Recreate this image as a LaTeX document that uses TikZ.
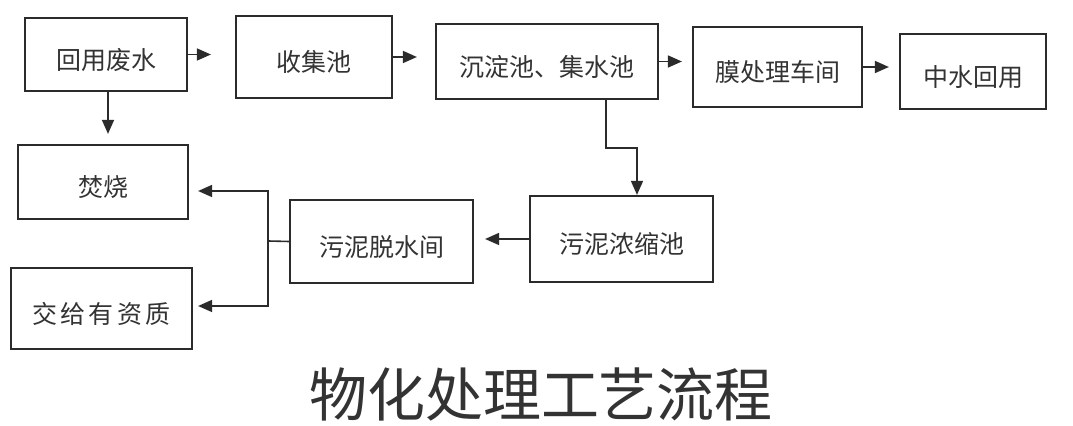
\documentclass[tikz,border=0pt]{standalone}
\usepackage{fontspec}
\newfontfamily\cjk{Noto Sans CJK SC}
\usetikzlibrary{arrows.meta,positioning}
\definecolor{flowink}{HTML}{2B2B2B}
\definecolor{flowtext}{HTML}{333333}

\begin{document}
\begin{tikzpicture}[
  x=0.5pt,y=-0.5pt,
  font=\cjk\fontsize{12.5}{15}\selectfont,
  box/.style={draw=flowink,line width=1.1pt,align=center,inner sep=2pt,text=flowtext,text height=16pt,text depth=1pt},
  arr/.style={draw=flowink,line width=0.8pt,->},
  >={Triangle[length=7pt,width=6pt]}]
\useasboundingbox[fill=white] (0,0) rectangle (1073,426);
% top row
\node[box,minimum width=81pt,minimum height=36.5pt] (waste) at (106,54.5) {回用废水};
\node[box,minimum width=78pt,minimum height=41pt] (collect) at (314,57) {收集池};
\node[box,minimum width=111pt,minimum height=37.5pt] (settle) at (547,61.5) {沉淀池、集水池};
\node[box,minimum width=84.5pt,minimum height=40pt] (membrane) at (777.5,67) {膜处理车间};
\node[box,minimum width=73pt,minimum height=37.5pt] (reuse) at (973,71.5) {中水回用};
% sludge line
\node[box,minimum width=85pt,minimum height=37pt] (burn) at (103,182) {焚烧};
\node[box,minimum width=90.5pt,minimum height=40.5pt] (handover) at (101.5,308.5) {交\hspace{1.6pt}给\hspace{1.6pt}有\hspace{1.6pt}资\hspace{1.6pt}质};
\node[box,minimum width=91.5pt,minimum height=41.5pt] (dewater) at (381.5,241.5) {污泥脱水间};
\node[box,minimum width=91.5pt,minimum height=43pt] (thicken) at (621.5,239) {污泥浓缩池};
\coordinate (split) at (268,241);
\node[text=flowtext,font=\cjk\fontsize{29}{32}\selectfont] (title) at (541,394) {物化处理工艺流程};
\draw[arr,shorten >=12pt] (waste.east) -- (waste.east -| collect.west);
\draw[arr,shorten >=9pt] (collect.east) -- (collect.east -| settle.west);
\draw[arr,shorten >=5pt] (settle.east) -- (settle.east -| membrane.west);
\draw[arr,shorten >=5pt] (membrane.east) -- (membrane.east -| reuse.west);
\draw[arr,shorten >=5pt] ([xshift=1pt]waste.south) -- ([xshift=1pt]waste.south |- burn.north);
\draw[arr] ([xshift=29.5pt]settle.south) -- ++(0,48) -| ([xshift=7.75pt]thicken.north);
\draw[arr,shorten >=5.5pt] (thicken.west) -- (thicken.west -| dewater.east);
\draw[draw=flowink,line width=0.8pt] (dewater.west) -- (split);
\draw[arr,shorten >=4.5pt] (split) |- ([yshift=-4.5pt]burn.east);
\draw[arr,shorten >=2.5pt] (split) |- ([yshift=1.25pt]handover.east);
\end{tikzpicture}
\end{document}
